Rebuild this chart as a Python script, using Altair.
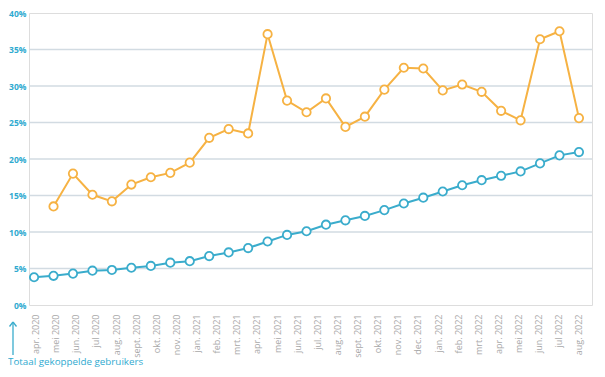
import json
import altair as alt
import pandas as pd

# Month labels shown on the x axis (as printed in the reference)
month_labels = [
    "apr. 2020", "mei 2020", "jun. 2020", "jul 2020", "aug. 2020", "sept. 2020",
    "okt. 2020", "nov. 2020", "jan. 2021", "feb. 2021", "mrt. 2021", "apr. 2021",
    "mei 2021", "jun. 2021", "jul. 2021", "aug. 2021", "sept. 2021", "okt. 2021",
    "nov. 2021", "dec. 2021", "jan. 2022", "feb. 2022", "mrt. 2022", "apr. 2022",
    "mei 2022", "jun. 2022", "jul 2022", "aug. 2022",
]

# Data points (29 monthly observations)
point_index = list(range(29))
blue_values = [3.8, 4.0, 4.3, 4.7, 4.8, 5.1, 5.35, 5.8, 6.0, 6.7, 7.2, 7.8, 8.7, 9.6,
               10.1, 11.0, 11.6, 12.2, 13.0, 13.9, 14.7, 15.55, 16.4, 17.1, 17.7,
               18.3, 19.4, 20.5, 20.95]
orange_values = [None, 13.5, 18.0, 15.1, 14.2, 16.5, 17.5, 18.1, 19.5, 22.9, 24.1, 23.5,
                 37.1, 28.0, 26.4, 28.3, 24.4, 25.8, 29.5, 32.5, 32.4, 29.4, 30.2, 29.2,
                 26.6, 25.3, 36.4, 37.5, 25.6]

y_ticks = [0, 5, 10, 15, 20, 25, 30, 35, 40]
grid_values = [5, 10, 15, 20, 25, 30, 35]
footer_text = "Totaal gekoppelde gebruikers"

BLUE = "#3aaccc"
ORANGE = "#f6b243"
CYAN_TXT = "#2faad0"

rows = []
for i, v in zip(point_index, blue_values):
    rows.append({"idx": i, "value": v, "serie": "totaal"})
for i, v in zip(point_index, orange_values):
    if v is not None:
        rows.append({"idx": i, "value": v, "serie": "percentage"})
df = pd.DataFrame(rows)

n_lab = len(month_labels)
n_pts = len(point_index) - 1
off = 0.08
label_pos = [round(off + j * (n_pts - off) / (n_lab - 1), 4) for j in range(n_lab)]
label_expr = (
    json.dumps(month_labels)
    + f"[round((datum.value - {off}) * {n_lab - 1} / ({n_pts} - {off}))]"
)

x_scale = alt.Scale(domain=[-0.26, 28.67], nice=False, zero=False)
y_scale = alt.Scale(domain=[0, 40], nice=False)

x_axis = alt.Axis(
    values=label_pos, labelExpr=label_expr, labelAngle=270, labelAlign="right",
    labelBaseline="middle", grid=False, ticks=False, domain=False, labelPadding=9,
    labelFontSize=9, labelColor="#a8a8a8", labelOverlap=False, labelFlush=False,
    title=None, labelFont="Open Sans",
)
y_axis = alt.Axis(
    values=y_ticks, labelExpr="datum.value + '%'", grid=False, ticks=False, domain=False,
    labelPadding=3, labelFontSize=8.5, labelFontWeight="bold", labelColor=CYAN_TXT,
    title=None, labelFont="Open Sans", labelOverlap=False, labelFlush=False,
)

grid = alt.Chart(pd.DataFrame({"g": grid_values})).mark_rule(
    color="#d2dbe2", strokeWidth=1.6
).encode(y=alt.Y("g:Q", scale=y_scale, axis=y_axis))

series_scale = alt.Scale(domain=["totaal", "percentage"], range=[BLUE, ORANGE])

base = alt.Chart(df).encode(
    x=alt.X("idx:Q", scale=x_scale, axis=x_axis),
    y=alt.Y("value:Q", scale=y_scale, axis=y_axis),
    color=alt.Color("serie:N", scale=series_scale, legend=None),
    detail="serie:N",
)
lines = base.mark_line(strokeWidth=2)
points = base.mark_point(filled=True, fill="white", size=70, strokeWidth=1.8, opacity=1).encode(
    stroke=alt.Stroke("serie:N", scale=series_scale, legend=None)
)

one = alt.Data(values=[{}])
arrow_shaft = alt.Chart(one).mark_rule(color=BLUE, strokeWidth=1.3).encode(
    x=alt.value(-16), y=alt.value(309), y2=alt.value(342)
)
arrow_l = alt.Chart(one).mark_rule(color=BLUE, strokeWidth=1.3).encode(
    x=alt.value(-16), y=alt.value(309), x2=alt.value(-19.5), y2=alt.value(313.5)
)
arrow_r = alt.Chart(one).mark_rule(color=BLUE, strokeWidth=1.3).encode(
    x=alt.value(-16), y=alt.value(309), x2=alt.value(-12.5), y2=alt.value(313.5)
)
footer = alt.Chart(pd.DataFrame({"t": [footer_text]})).mark_text(
    align="left", baseline="alphabetic", fontSize=9.8, color=CYAN_TXT, font="Open Sans"
).encode(x=alt.value(-21), y=alt.value(352), text="t:N")

chart = alt.layer(grid, lines, points, arrow_shaft, arrow_l, arrow_r, footer).properties(
    width=563, height=292,
    autosize=alt.AutoSizeParams(type="none"),
    padding={"left": 21, "top": 5, "right": 3, "bottom": 64},
).configure_view(fill="#f2fafd", stroke=None).configure(background="white")

chart.save("out.html", embed_options={"renderer": "svg", "actions": False})
